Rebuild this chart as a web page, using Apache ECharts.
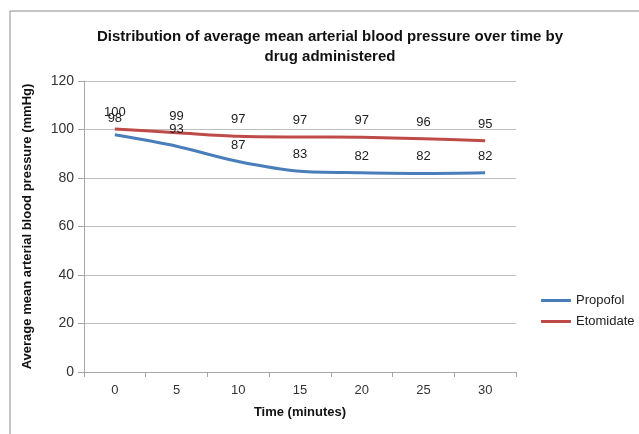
<!DOCTYPE html>
<html><head><meta charset="utf-8">
<script src="https://cdn.jsdelivr.net/npm/echarts@6/dist/echarts.min.js"></script>
<style>html,body{margin:0;padding:0;background:#fff}#c{width:639px;height:434px}</style>
</head><body><div id="c"></div>
<script>
const categories = ['0','5','10','15','20','25','30'];
const propofol = [97.8, 93.1, 86.8, 82.8, 82.2, 81.9, 82.2];
const etomidate = [100.2, 98.7, 97.2, 96.9, 96.8, 96.2, 95.4];
const seriesNames = ['Propofol', 'Etomidate'];
const titleText = 'Distribution of average mean arterial blood pressure over time by\ndrug administered';
const xName = 'Time (minutes)';
const yName = 'Average mean arterial blood pressure (mmHg)';

const font = 'Liberation Sans, Arial, sans-serif';
const chart = echarts.init(document.getElementById('c'), null, {renderer: 'canvas'});
const labelCfg = {show: true, position: 'top', distance: 10, color: '#222', fontSize: 13, fontFamily: font,
  formatter: p => Math.round(p.value)};
chart.setOption({
  animation: false,
  graphic: [{type: 'rect', shape: {x: 10, y: 11, width: 640, height: 440},
    style: {fill: 'none', stroke: '#8c8c8c', lineWidth: 1}, silent: true, z: -1}],
  title: {text: titleText, left: 325, textAlign: 'center', top: 22,
    textStyle: {fontFamily: font, fontWeight: 'bold', fontSize: 15, color: '#111', lineHeight: 20}},
  legend: {orient: 'vertical', left: 536, top: 289, itemGap: 8, itemWidth: 30, itemHeight: 14,
    icon: 'path://M0,0 L30,0 L30,3 L0,3 Z',
    textStyle: {fontFamily: font, fontSize: 13, color: '#222'},
    data: seriesNames},
  grid: {left: 84, right: 123, top: 81, bottom: 62, containLabel: false},
  xAxis: {type: 'category', data: categories, boundaryGap: true,
    name: xName, nameLocation: 'middle', nameGap: 34,
    nameTextStyle: {fontFamily: font, fontWeight: 'bold', fontSize: 13, color: '#111'},
    axisLine: {lineStyle: {color: '#a6a6a6'}},
    axisTick: {show: true, length: 5, lineStyle: {color: '#a6a6a6'}, alignWithLabel: false},
    axisLabel: {fontFamily: font, fontSize: 13, color: '#333', margin: 12}},
  yAxis: {type: 'value', min: 0, max: 120, interval: 20,
    name: yName, nameLocation: 'middle', nameGap: 50, nameRotate: 90,
    nameTextStyle: {fontFamily: font, fontWeight: 'bold', fontSize: 13, color: '#111'},
    axisLine: {show: true, lineStyle: {color: '#a6a6a6'}},
    axisTick: {show: true, length: 6, lineStyle: {color: '#a6a6a6'}},
    splitLine: {lineStyle: {color: '#bfbfbf'}},
    axisLabel: {fontFamily: font, fontSize: 14, color: '#333', margin: 10}},
  series: [
    {name: seriesNames[0], type: 'line', data: propofol, smooth: 0.3, symbol: 'circle', symbolSize: 0, showSymbol: true,
      lineStyle: {width: 3, color: '#4a7ebb'}, itemStyle: {color: '#4a7ebb'}, label: labelCfg},
    {name: seriesNames[1], type: 'line', data: etomidate, smooth: 0.3, symbol: 'circle', symbolSize: 0, showSymbol: true,
      lineStyle: {width: 3, color: '#be4b48'}, itemStyle: {color: '#be4b48'}, label: labelCfg}
  ]
});
</script></body></html>
